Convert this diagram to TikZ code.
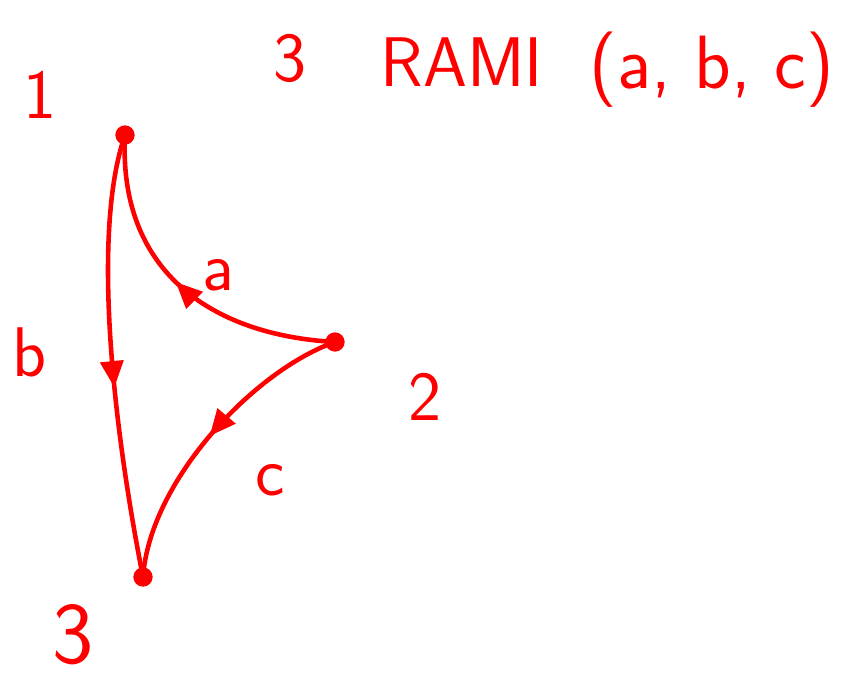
\documentclass[tikz,border=0pt]{standalone}
\usepackage{tikz}
\usetikzlibrary{arrows.meta,decorations.markings}

\tikzset{
    ramo/.style={red, line width=2.6pt, line cap=round},
    freccia/.style={postaction={decorate}, decoration={markings,
        mark=at position #1 with {\arrow{Triangle[length=15pt,width=13pt]}}}},
    vertice/.style={circle, fill=red, inner sep=0pt, minimum size=11pt},
    etichetta/.style={red, font=\sffamily\fontsize{40}{40}\selectfont}
}

\begin{document}
\begin{tikzpicture}[x=0.02cm, y=-0.02cm, >=Stealth, thick]
    \useasboundingbox (0, 0) rectangle (846, 684);

    % titolo
    \node[etichetta] (t3) at (290, 58) {3};
    \node[etichetta] (trami) at (462, 62) {RAMI};
    \node[etichetta, font=\sffamily\fontsize{43}{43}\selectfont] (tabc) at (712, 70) {(a, b, c)};

    % vertici
    \node[vertice] (v1) at (125, 135) {};
    \node[vertice] (v2) at (335, 342) {};
    \node[vertice] (v3) at (143, 577) {};
    \node[etichetta] (l1) at (40, 95) {1};
    \node[etichetta] (l2) at (425, 397) {2};
    \node[etichetta, font=\sffamily\fontsize{50}{50}\selectfont] (l3) at (73, 635) {3};

    % rami a, b, c
    \draw[ramo, freccia=0.52] (v2.center) .. controls (210, 335) and (118, 270) .. (v1.center);
    \draw[ramo, freccia=0.57] (v1.center) .. controls (92, 230) and (112, 420) .. (v3.center);
    \draw[ramo, freccia=0.5] (v2.center) .. controls (255, 370) and (150, 480) .. (v3.center);

    % nomi dei rami
    \node[etichetta] (la) at (218, 275) {a};
    \node[etichetta] (lb) at (30, 352) {b};
    \node[etichetta] (lc) at (270, 480) {c};
\end{tikzpicture}
\end{document}
